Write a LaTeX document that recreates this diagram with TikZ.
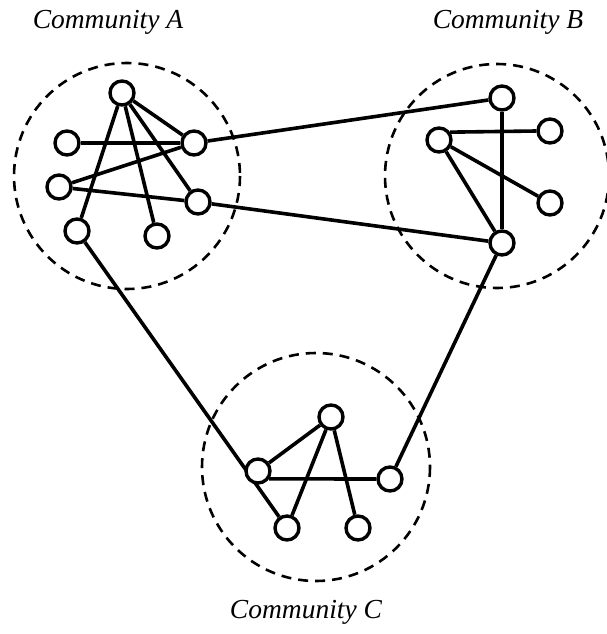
\documentclass[tikz,border=0pt]{standalone}
\usepackage{fontspec}
\setmainfont{Liberation Serif}
\usetikzlibrary{positioning, backgrounds}

\begin{document}
\begin{tikzpicture}[x=1pt, y=-1pt,
  vertex/.style={circle, draw, line width=3.4pt, fill=white, minimum size=24pt, inner sep=0pt},
  link/.style={draw, line width=3.6pt},
  group/.style={draw, line width=2.6pt, dash pattern=on 10pt off 7pt},
  title/.style={font=\itshape\fontsize{27.5}{30}\selectfont}]
  \useasboundingbox (0,0) rectangle (606,634);
  \node[title] (ta) at (108,22) {Community A};
  \node[title] (tb) at (508,22) {Community B};
  \node[title] (tc) at (306,612) {Community C};

  % community A
  \node[vertex] (a1) at (122,93) {};
  \node[vertex] (a2) at (67,143) {};
  \node[vertex] (a3) at (194,143) {};
  \node[vertex] (a4) at (59,187) {};
  \node[vertex] (a5) at (198,202) {};
  \node[vertex] (a6) at (77,231) {};
  \node[vertex] (a7) at (157,236) {};
  % community B
  \node[vertex] (b1) at (502,98) {};
  \node[vertex] (b2) at (439,140) {};
  \node[vertex] (b3) at (550,131) {};
  \node[vertex] (b4) at (550,203) {};
  \node[vertex] (b5) at (502,243) {};
  % community C
  \node[vertex] (c1) at (331,417) {};
  \node[vertex] (c2) at (258,471) {};
  \node[vertex] (c3) at (390,479) {};
  \node[vertex] (c4) at (287,528) {};
  \node[vertex] (c5) at (358,528) {};

  \begin{pgfonlayer}{background}
  % communities
  \draw[group] (127,176) circle (113);
  \draw[group] (497,176) circle (112);
  \draw[group] (316,467) circle (114);

  \path[link]
  (a1) edge (a3)
  (a1) edge (a5)
  (a1) edge (a7)
  (a1) edge (a6)
  (a2) edge (a3)
  (a4) edge (a3)
  (a4) edge (a5)
  (b1) edge (b5)
  (b2.35) edge (b3.180)
  (b2) edge (b4)
  (b2) edge (b5)
  (c1) edge (c2)
  (c1) edge (c4)
  (c1) edge (c5)
  (c2.-35) edge (c3.180)
  (a3) edge (b1)
  (a5) edge (b5)
  (a6) edge (c4)
  (b5) edge (c3)
  ;
  \end{pgfonlayer}
\end{tikzpicture}
\end{document}
